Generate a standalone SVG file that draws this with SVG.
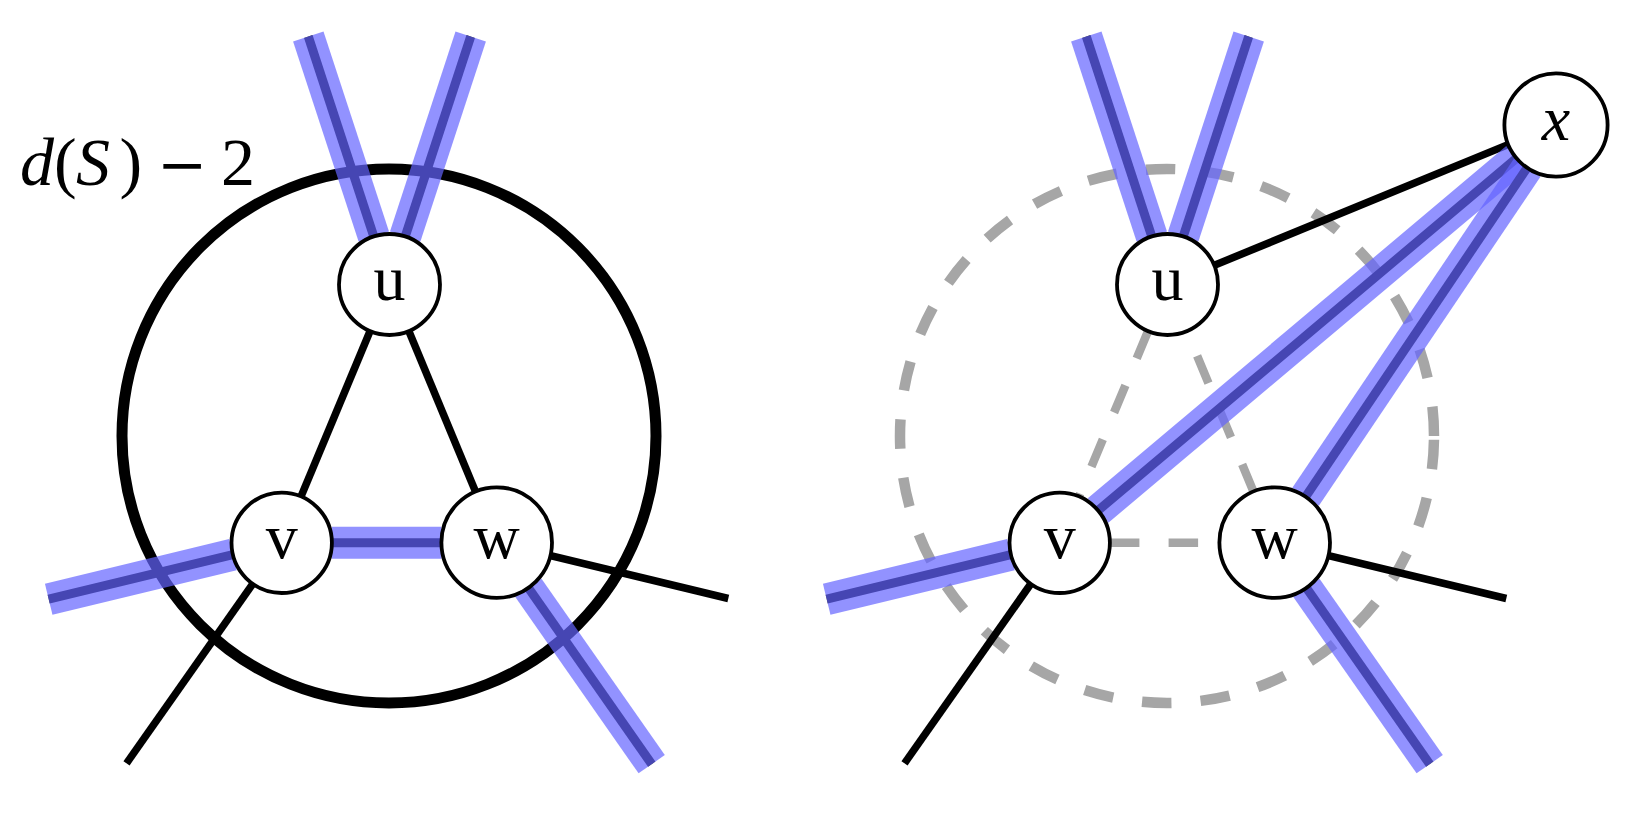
<svg xmlns="http://www.w3.org/2000/svg" width="1641" height="824" viewBox="0 0 1641 824">
<style>
.circ{fill:none;stroke:#000;stroke-width:11}
.dcirc{fill:none;stroke:#a6a6a6;stroke-width:10.5;stroke-dasharray:29.5 29.2}
.edge{stroke:#000;stroke-width:7.5;fill:none}
.dedge{stroke:#a6a6a6;stroke-width:8.5;stroke-dasharray:29.5 29.2;fill:none}
.core{stroke:#000;stroke-width:9}
.band{stroke:#6464ff;stroke-opacity:0.7;stroke-width:32}
.node circle{fill:#fff;stroke:#000;stroke-width:3.8}
.node text{font-family:"Liberation Serif",serif;font-size:64px;text-anchor:middle;fill:#000}
.lbl{font-family:"Liberation Serif",serif;font-size:68px;fill:#000}
.minus{font-family:"DejaVu Serif",serif;font-size:60px;fill:#000}
</style>
<rect width="1641" height="824" fill="#fff"/>
<g id="set-left">
<circle class="circ" cx="389" cy="436" r="267"/>
</g>
<g id="set-right">
<path class="dcirc" d="M 1434 436 A 267 267 0 1 0 900 436 A 267 267 0 1 0 1434 436"/>
</g>
<g id="connectors">
<line class="edge" x1="389.5" y1="284.5" x2="281.7" y2="542.8"/>
<line class="edge" x1="389.5" y1="284.5" x2="496.7" y2="542.6"/>
<line class="edge" x1="281.7" y1="542.8" x2="126.5" y2="763.3"/>
<line class="edge" x1="496.7" y1="542.6" x2="728.3" y2="598.5"/>
<line class="dedge" x1="1148.05" y1="331.1" x2="1079.03" y2="496.48"/>
<line class="dedge" x1="1253.49" y1="491.53" x2="1186.87" y2="331.14"/>
<line class="dedge" x1="1109.9" y1="542.7" x2="1219.4" y2="542.7"/>
<line class="edge" x1="1167.5" y1="284.5" x2="1556" y2="125"/>
<line class="edge" x1="1059.7" y1="542.8" x2="904.5" y2="763.3"/>
<line class="edge" x1="1274.7" y1="542.6" x2="1506.3" y2="598.5"/>
<g>
<line class="core" x1="373.79" y1="236.51" x2="308.3" y2="36.5"/>
<line class="band" x1="373.79" y1="236.51" x2="308.3" y2="36.5"/>
</g>
<g>
<line class="core" x1="405.21" y1="236.51" x2="470.7" y2="36.5"/>
<line class="band" x1="405.21" y1="236.51" x2="470.7" y2="36.5"/>
</g>
<g>
<line class="core" x1="232.91" y1="554.61" x2="48.7" y2="599.2"/>
<line class="band" x1="232.91" y1="554.61" x2="48.7" y2="599.2"/>
</g>
<g>
<line class="core" x1="331.9" y1="542.7" x2="441.4" y2="542.7"/>
<line class="band" x1="331.9" y1="542.7" x2="441.4" y2="542.7"/>
</g>
<g>
<line class="core" x1="528.4" y1="587.91" x2="651.7" y2="764.2"/>
<line class="band" x1="528.4" y1="587.91" x2="651.7" y2="764.2"/>
</g>
<g>
<line class="core" x1="1151.79" y1="236.51" x2="1086.3" y2="36.5"/>
<line class="band" x1="1151.79" y1="236.51" x2="1086.3" y2="36.5"/>
</g>
<g>
<line class="core" x1="1183.21" y1="236.51" x2="1248.7" y2="36.5"/>
<line class="band" x1="1183.21" y1="236.51" x2="1248.7" y2="36.5"/>
</g>
<g>
<line class="core" x1="1010.91" y1="554.61" x2="826.7" y2="599.2"/>
<line class="band" x1="1010.91" y1="554.61" x2="826.7" y2="599.2"/>
</g>
<g>
<line class="core" x1="1306.4" y1="587.91" x2="1429.7" y2="764.2"/>
<line class="band" x1="1306.4" y1="587.91" x2="1429.7" y2="764.2"/>
</g>
<g>
<line class="core" x1="1098.1" y1="510.47" x2="1516.53" y2="158.23"/>
<line class="band" x1="1098.1" y1="510.47" x2="1516.53" y2="158.23"/>
</g>
<g>
<line class="core" x1="1305.6" y1="496.73" x2="1527.17" y2="167.8"/>
<line class="band" x1="1305.6" y1="496.73" x2="1527.17" y2="167.8"/>
</g>
</g>
<g id="node-u-left" class="node"><circle cx="389.5" cy="284.5" r="50.5"/><text x="389.5" y="300">u</text></g>
<g id="node-v-left" class="node"><circle cx="281.7" cy="542.8" r="50.2"/><text x="281.7" y="557.5">v</text></g>
<g id="node-w-left" class="node"><circle cx="496.7" cy="542.6" r="55.3"/><text x="496.7" y="557.5">w</text></g>
<g id="node-u-right" class="node"><circle cx="1167.5" cy="284.5" r="50.5"/><text x="1167.5" y="300">u</text></g>
<g id="node-v-right" class="node"><circle cx="1059.7" cy="542.8" r="50.2"/><text x="1059.7" y="557.5">v</text></g>
<g id="node-w-right" class="node"><circle cx="1274.7" cy="542.6" r="55.3"/><text x="1274.7" y="557.5">w</text></g>
<g id="node-x" class="node"><circle cx="1556" cy="125" r="51.6"/><text x="1556" y="139.5" font-style="italic">x</text></g>
<g id="label-dS">
<text class="lbl" y="184.5"><tspan x="20" font-style="italic">d</tspan><tspan x="54">(</tspan><tspan x="76" font-style="italic">S</tspan><tspan x="119.5">)</tspan><tspan x="221">2</tspan></text>
<text class="minus" x="157" y="185">−</text>
</g>
</svg>
